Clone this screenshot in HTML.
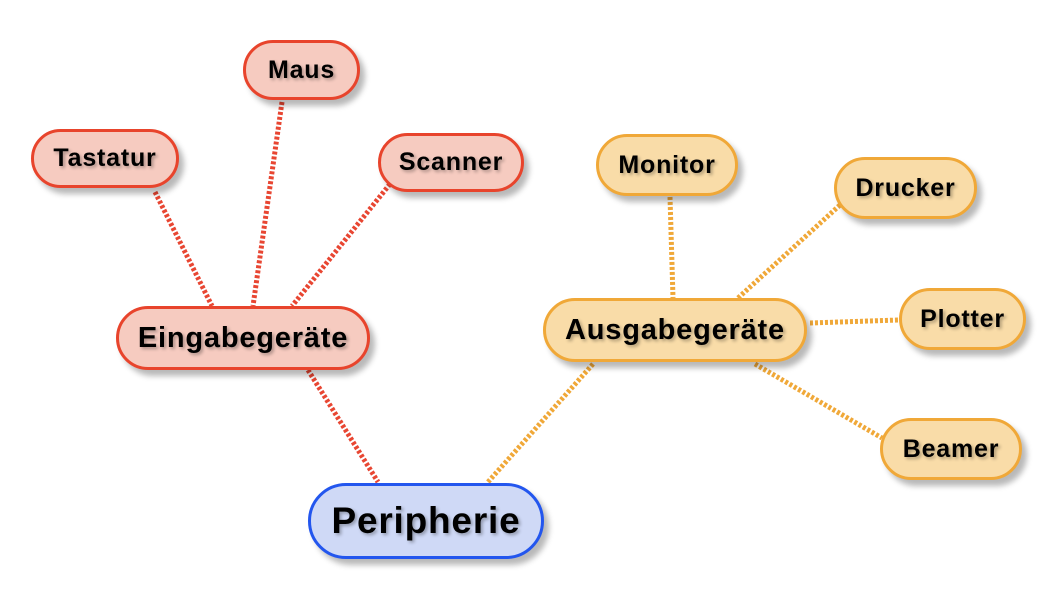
<!DOCTYPE html>
<html><head><meta charset="utf-8"><style>
body{margin:0;width:1062px;height:598px;background:#fff;position:relative;overflow:hidden;font-family:"Liberation Sans",sans-serif}
svg{position:absolute;left:0;top:0}
.n{position:absolute;box-sizing:border-box;border-radius:999px;display:flex;align-items:center;justify-content:center;font-weight:bold;color:#000;border:3px solid;box-shadow:5px 6px 6px rgba(0,0,0,.28);text-shadow:2px 2px 3px rgba(0,0,0,.3);white-space:nowrap;letter-spacing:0.8px}
.r{background:#f6cbc0;border-color:#e8442c}
.o{background:#f9dca8;border-color:#f0a838}
.b{background:#cfd9f6;border-color:#2356ee}
</style></head><body>
<svg width="1062" height="598">
<g stroke-width="5" stroke-dasharray="3 2" fill="none">
<g stroke="#e84632">
<line x1="308" y1="370" x2="378" y2="482"/>
<line x1="155" y1="192" x2="212" y2="306"/>
<line x1="282" y1="102" x2="253" y2="306"/>
<line x1="390" y1="184" x2="292" y2="306"/>
</g>
<g stroke="#f0a838">
<line x1="593" y1="364" x2="488" y2="482"/>
<line x1="670" y1="197" x2="673" y2="298"/>
<line x1="840" y1="205" x2="738" y2="298"/>
<line x1="810" y1="323" x2="899" y2="320"/>
<line x1="755" y1="364" x2="882" y2="438"/>
</g>
</g>
</svg>
<div class="n b" style="left:308px;top:483px;width:236px;height:76px;font-size:37px">Peripherie</div>
<div class="n r" style="left:116px;top:306px;width:254px;height:64px;font-size:29px">Eingabegeräte</div>
<div class="n o" style="left:543px;top:298px;width:264px;height:64px;font-size:29px">Ausgabegeräte</div>
<div class="n r" style="left:243px;top:40px;width:117px;height:60px;font-size:25px">Maus</div>
<div class="n r" style="left:31px;top:129px;width:148px;height:59px;font-size:25px">Tastatur</div>
<div class="n r" style="left:378px;top:133px;width:146px;height:59px;font-size:25px">Scanner</div>
<div class="n o" style="left:596px;top:134px;width:142px;height:62px;font-size:25px">Monitor</div>
<div class="n o" style="left:834px;top:157px;width:143px;height:62px;font-size:25px">Drucker</div>
<div class="n o" style="left:899px;top:288px;width:127px;height:62px;font-size:25px">Plotter</div>
<div class="n o" style="left:880px;top:418px;width:142px;height:62px;font-size:25px">Beamer</div>
</body></html>
